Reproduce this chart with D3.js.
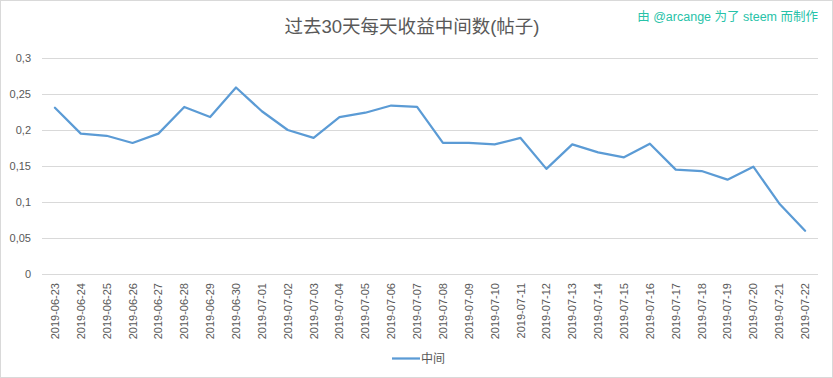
<!DOCTYPE html>
<html><head><meta charset="utf-8">
<script src="https://cdn.jsdelivr.net/npm/d3@7"></script>
<style>body{margin:0;background:#fff}svg{display:block}text{font-family:"Liberation Sans","Noto Sans CJK SC",sans-serif}</style>
</head><body>
<script>
const dates = ["2019-06-23","2019-06-24","2019-06-25","2019-06-26","2019-06-27","2019-06-28","2019-06-29","2019-06-30","2019-07-01","2019-07-02","2019-07-03","2019-07-04","2019-07-05","2019-07-06","2019-07-07","2019-07-08","2019-07-09","2019-07-10","2019-07-11","2019-07-12","2019-07-13","2019-07-14","2019-07-15","2019-07-16","2019-07-17","2019-07-18","2019-07-19","2019-07-20","2019-07-21","2019-07-22"];
const median = [0.231,0.195,0.192,0.182,0.195,0.232,0.218,0.259,0.226,0.200,0.189,0.218,0.224,0.234,0.232,0.182,0.182,0.180,0.189,0.146,0.180,0.169,0.162,0.181,0.145,0.143,0.131,0.149,0.098,0.060];
const yTicks = [0,0.05,0.1,0.15,0.2,0.25,0.3];
const yTickLabels = ["0","0,05","0,1","0,15","0,2","0,25","0,3"];
const title = "过去30天每天收益中间数(帖子)";
const credit = "由 @arcange 为了 steem 而制作";
const seriesName = "中间";

const W = 833, H = 378;
const svg = d3.select("body").append("svg").attr("width", W).attr("height", H);
svg.append("rect").attr("x",0.5).attr("y",0.5).attr("width",W-1).attr("height",H-1).attr("fill","#fff").attr("stroke","#d9d9d9");

const x = d3.scaleBand().domain(dates).range([42, 818]);
const y = d3.scaleLinear().domain([0, 0.3]).range([274, 58]);

const grid = svg.append("g");
grid.selectAll("line").data(yTicks).join("line")
  .attr("x1", 42).attr("x2", 818)
  .attr("y1", d => Math.round(y(d)) + 0.5).attr("y2", d => Math.round(y(d)) + 0.5)
  .attr("stroke", "#d9d9d9").attr("stroke-width", 1);

const yAxis = d3.axisLeft(y).tickValues(yTicks).tickFormat((d,i) => yTickLabels[i]).tickSize(0).tickPadding(0);
const ya = svg.append("g").attr("transform", "translate(31,0)").call(yAxis);
ya.select(".domain").remove();
ya.selectAll("text").attr("fill", "#595959").attr("font-size", 11);

const xAxis = d3.axisBottom(x).tickSize(0).tickPadding(0);
const xa = svg.append("g").attr("transform", "translate(0,274)").call(xAxis);
xa.select(".domain").remove();
xa.selectAll("text").attr("fill", "#595959").attr("font-size", 11)
  .attr("text-anchor", "end").attr("transform", "translate(4,9) rotate(-90)").attr("dy", "0").attr("x", 0).attr("y", 0);

const line = d3.line().x((d,i) => x(dates[i]) + x.bandwidth()/2).y(d => y(d));
svg.append("path").datum(median).attr("d", line).attr("fill", "none")
  .attr("stroke", "#5b9bd5").attr("stroke-width", 2.25).attr("stroke-linejoin", "round").attr("stroke-linecap", "round");

svg.append("text").attr("x", 412).attr("y", 33).attr("text-anchor", "middle")
  .attr("font-size", 18.5).attr("fill", "#595959").text(title);
svg.append("text").attr("x", 818).attr("y", 21).attr("text-anchor", "end")
  .attr("font-size", 12.5).attr("fill", "#27c2a8").text(credit);

svg.append("line").attr("x1", 392).attr("x2", 420).attr("y1", 358.5).attr("y2", 358.5)
  .attr("stroke", "#5b9bd5").attr("stroke-width", 2.25);
svg.append("text").attr("x", 421).attr("y", 363).attr("font-size", 12).attr("fill", "#595959").text(seriesName);
</script>
</body></html>
